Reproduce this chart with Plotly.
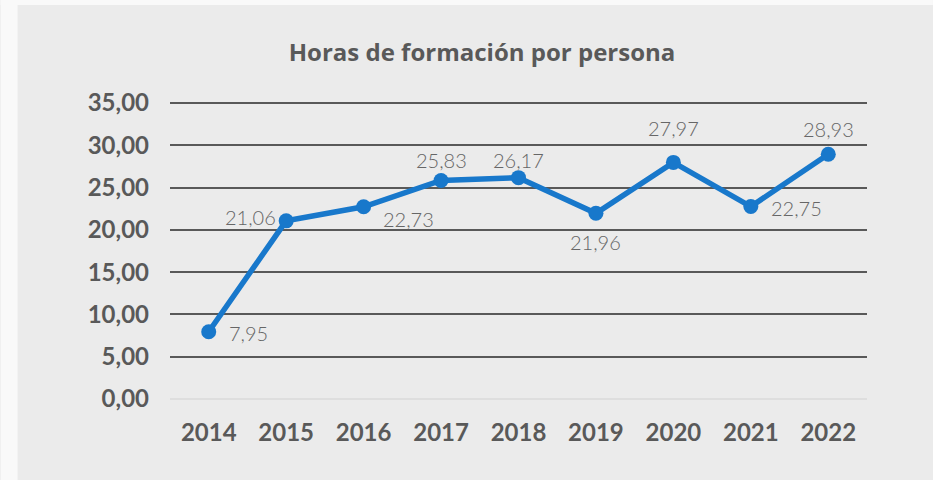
import plotly.graph_objects as go

years = ["2014", "2015", "2016", "2017", "2018", "2019", "2020", "2021", "2022"]
hours = [7.95, 21.06, 22.73, 25.83, 26.17, 21.96, 27.97, 22.75, 28.93]
y_ticks = [0, 5, 10, 15, 20, 25, 30, 35]

# label placement (anchor, x shift px, y shift px)
label_anchor = ["left", "right", "left", "center", "center", "center", "center", "left", "center"]
label_dx = [18, -8, 17, 0, 0, 0, 0, 18, 0]
label_dy = [-1, 4, -12, 21, 18, -29, 34, -1, 25]

W, H = 933, 480
Y_MAX = 35.35
L, R, B = 169.5, 66, 81
T = 103 - (Y_MAX - 35) * (296 / 35)
pw = W - L - R
ph = H - T - B

fig = go.Figure()
fig.add_trace(go.Scatter(
    x=years, y=hours, mode="lines+markers",
    line=dict(color="#1878cb", width=5.5),
    marker=dict(color="#1878cb", size=15),
    cliponaxis=False,
    hoverinfo="skip",
))

for i, (v, a, dx, dy) in enumerate(zip(hours, label_anchor, label_dx, label_dy)):
    fig.add_annotation(
        x=i, y=v, text=f"{v:.2f}".replace(".", ","), showarrow=False,
        xanchor=a, yanchor="middle", xshift=dx, yshift=dy,
        font=dict(family="Lato", size=20, color="#666666", weight=300),
    )

fig.update_layout(
    width=W, height=H,
    margin=dict(l=L, r=R, t=T, b=B, pad=0),
    paper_bgcolor="#ebebeb",
    plot_bgcolor="#ebebeb",
    separators=",.",
    showlegend=False,
    title=dict(text="<b>Horas de formación por persona</b>", x=482 / W, xref="container",
               xanchor="center", y=1 - 53 / H, yref="container", yanchor="middle",
               font=dict(family="Open Sans", size=24, color="#595959")),
    font=dict(family="Lato"),
    shapes=[
        dict(type="rect", xref="paper", yref="paper", layer="below",
             x0=(0 - L) / pw, x1=(17 - L) / pw, y0=-B / ph, y1=(ph + T) / ph,
             fillcolor="#f9f9f9", line=dict(width=0)),
        dict(type="rect", xref="paper", yref="paper", layer="below",
             x0=(0 - L) / pw, x1=(W - L) / pw, y0=(ph + T - 5) / ph, y1=(ph + T) / ph,
             fillcolor="#f9f9f9", line=dict(width=0)),
    ],
)
fig.update_xaxes(
    type="category", range=[-0.5, len(years) - 0.5],
    showgrid=False, zeroline=False, showline=False, ticks="",
    tickfont=dict(family="Lato", size=24, color="#595959", weight="bold"),
    ticklabelstandoff=17,
)
fig.update_yaxes(
    range=[0, Y_MAX], tickvals=y_ticks, tickformat=".2f",
    showgrid=True, gridcolor="#595959", gridwidth=1.6,
    zeroline=True, zerolinecolor="#dedede", zerolinewidth=1.6,
    showline=False, ticks="",
    tickfont=dict(family="Lato", size=24, color="#595959", weight="bold"),
    ticklabelstandoff=20,
)

fig.write_html("out.html", config={"displayModeBar": False},
               post_script="document.body.style.margin='0px';")
